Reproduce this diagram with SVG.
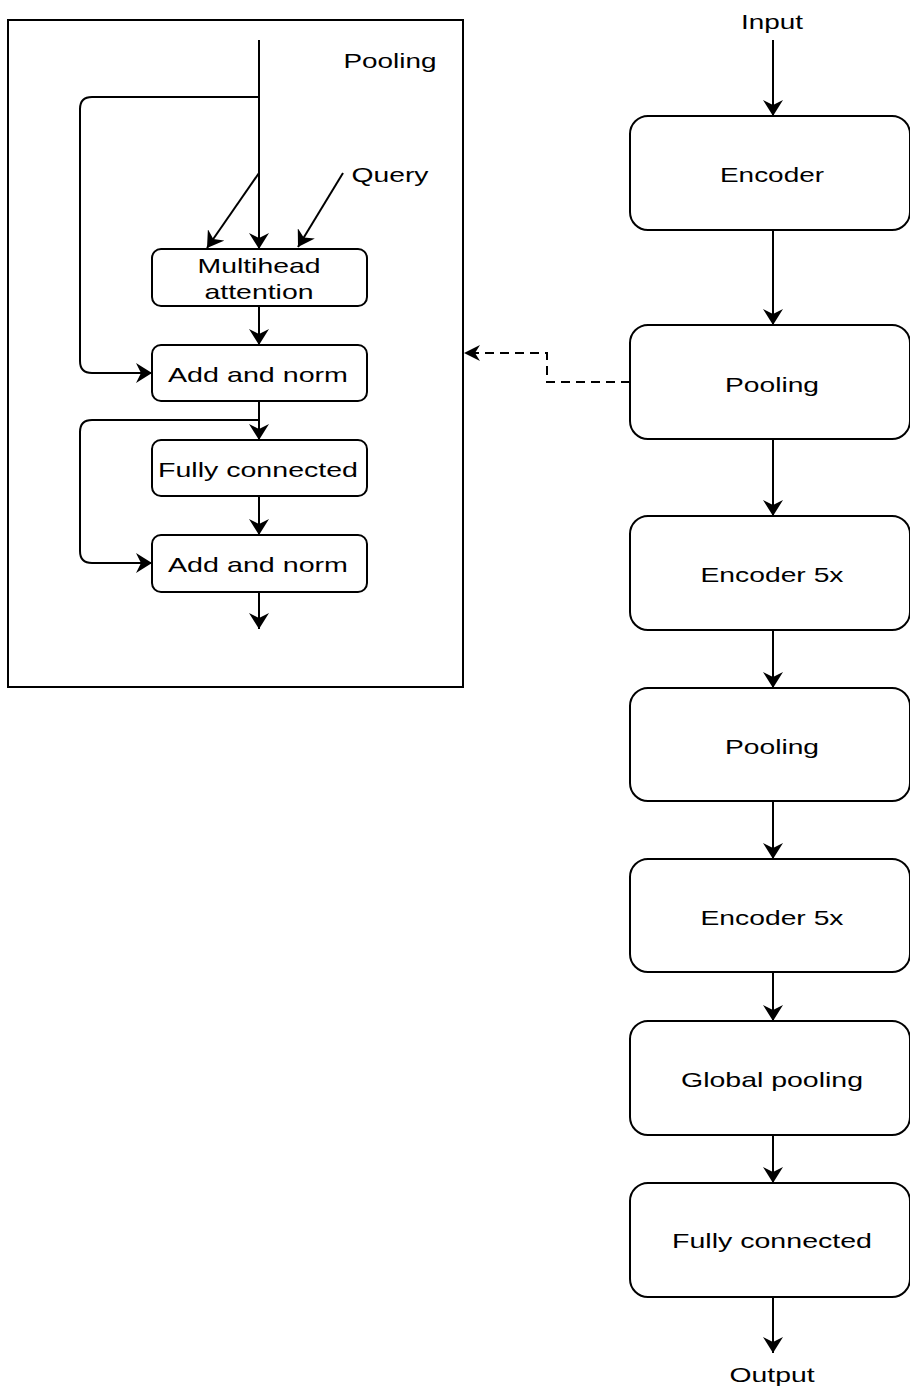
<svg xmlns="http://www.w3.org/2000/svg" width="910" height="1389" viewBox="0 0 910 1389">
<style>
.box{fill:#fff;stroke:#000;stroke-width:2}
.ln{fill:none;stroke:#000;stroke-width:2}
.dash{fill:none;stroke:#000;stroke-width:2;stroke-dasharray:9 6}
text{font-family:"Liberation Sans",Arial,sans-serif;font-size:21px;fill:#000;text-anchor:middle}
</style>
<defs>
<marker id="ah" markerUnits="userSpaceOnUse" viewBox="0 0 16 20" refX="16" refY="10" markerWidth="16" markerHeight="20" orient="auto">
<path d="M0,0 L16,10 L0,20 L5,10 z" fill="#000"/>
</marker>
<marker id="ah2" markerUnits="userSpaceOnUse" viewBox="0 0 16 16" refX="16" refY="8" markerWidth="16" markerHeight="16" orient="auto">
<path d="M0,0 L16,8 L0,16 L5,8 z" fill="#000"/>
</marker>
</defs>
<rect width="910" height="1389" fill="#fff"/>

<g id="container">
<rect x="8" y="20" width="455" height="667" fill="none" stroke="#000" stroke-width="2"/>
<text x="390" y="68" textLength="93" lengthAdjust="spacingAndGlyphs">Pooling</text>
</g>

<g id="connectors">
<!-- inner -->
<line class="ln" x1="259" y1="40" x2="259" y2="249" marker-end="url(#ah)"/>
<path class="ln" d="M259,97 H92 Q80,97 80,109 V361 Q80,373 92,373 H152" marker-end="url(#ah)"/>
<line class="ln" x1="259" y1="173" x2="207" y2="248" marker-end="url(#ah)"/>
<line class="ln" x1="343" y1="173" x2="298" y2="247" marker-end="url(#ah)"/>
<line class="ln" x1="259" y1="306" x2="259" y2="345" marker-end="url(#ah)"/>
<line class="ln" x1="259" y1="401" x2="259" y2="440" marker-end="url(#ah)"/>
<path class="ln" d="M259,420 H92 Q80,420 80,432 V551 Q80,563 92,563 H152" marker-end="url(#ah)"/>
<line class="ln" x1="259" y1="496" x2="259" y2="535" marker-end="url(#ah)"/>
<line class="ln" x1="259" y1="592" x2="259" y2="629" marker-end="url(#ah)"/>
<!-- dashed -->
<path class="dash" d="M630,382 H547 V353 H464" marker-end="url(#ah2)"/>
<!-- right column -->
<line class="ln" x1="773" y1="40" x2="773" y2="116" marker-end="url(#ah)"/>
<line class="ln" x1="773" y1="230" x2="773" y2="325" marker-end="url(#ah)"/>
<line class="ln" x1="773" y1="439" x2="773" y2="516" marker-end="url(#ah)"/>
<line class="ln" x1="773" y1="630" x2="773" y2="688" marker-end="url(#ah)"/>
<line class="ln" x1="773" y1="801" x2="773" y2="859" marker-end="url(#ah)"/>
<line class="ln" x1="773" y1="972" x2="773" y2="1021" marker-end="url(#ah)"/>
<line class="ln" x1="773" y1="1135" x2="773" y2="1183" marker-end="url(#ah)"/>
<line class="ln" x1="773" y1="1297" x2="773" y2="1353" marker-end="url(#ah)"/>
</g>

<g id="query"><text x="390" y="182" textLength="77" lengthAdjust="spacingAndGlyphs">Query</text></g>

<g id="multihead">
<rect class="box" x="152" y="249" width="215" height="57" rx="9"/>
<text x="259" y="273" textLength="123" lengthAdjust="spacingAndGlyphs">Multihead</text>
<text x="259" y="299" textLength="109" lengthAdjust="spacingAndGlyphs">attention</text>
</g>
<g id="addnorm1">
<rect class="box" x="152" y="345" width="215" height="56" rx="9"/>
<text x="258" y="382" textLength="180" lengthAdjust="spacingAndGlyphs">Add and norm</text>
</g>
<g id="fc1">
<rect class="box" x="152" y="440" width="215" height="56" rx="9"/>
<text x="258" y="477" textLength="200" lengthAdjust="spacingAndGlyphs">Fully connected</text>
</g>
<g id="addnorm2">
<rect class="box" x="152" y="535" width="215" height="57" rx="9"/>
<text x="258" y="572" textLength="180" lengthAdjust="spacingAndGlyphs">Add and norm</text>
</g>

<g id="input"><text x="772" y="29" textLength="62" lengthAdjust="spacingAndGlyphs">Input</text></g>
<g id="encoder1">
<rect class="box" x="630" y="116" width="280" height="114" rx="18"/>
<text x="772" y="182" textLength="104" lengthAdjust="spacingAndGlyphs">Encoder</text>
</g>
<g id="pooling1">
<rect class="box" x="630" y="325" width="280" height="114" rx="18"/>
<text x="772" y="392" textLength="94" lengthAdjust="spacingAndGlyphs">Pooling</text>
</g>
<g id="encoder2">
<rect class="box" x="630" y="516" width="280" height="114" rx="18"/>
<text x="772" y="582" textLength="143" lengthAdjust="spacingAndGlyphs">Encoder 5x</text>
</g>
<g id="pooling2">
<rect class="box" x="630" y="688" width="280" height="113" rx="18"/>
<text x="772" y="754" textLength="94" lengthAdjust="spacingAndGlyphs">Pooling</text>
</g>
<g id="encoder3">
<rect class="box" x="630" y="859" width="280" height="113" rx="18"/>
<text x="772" y="925" textLength="143" lengthAdjust="spacingAndGlyphs">Encoder 5x</text>
</g>
<g id="globalpool">
<rect class="box" x="630" y="1021" width="280" height="114" rx="18"/>
<text x="772" y="1087" textLength="182" lengthAdjust="spacingAndGlyphs">Global pooling</text>
</g>
<g id="fc2">
<rect class="box" x="630" y="1183" width="280" height="114" rx="18"/>
<text x="772" y="1248" textLength="200" lengthAdjust="spacingAndGlyphs">Fully connected</text>
</g>
<g id="output"><text x="772" y="1382" textLength="85" lengthAdjust="spacingAndGlyphs">Output</text></g>
</svg>
